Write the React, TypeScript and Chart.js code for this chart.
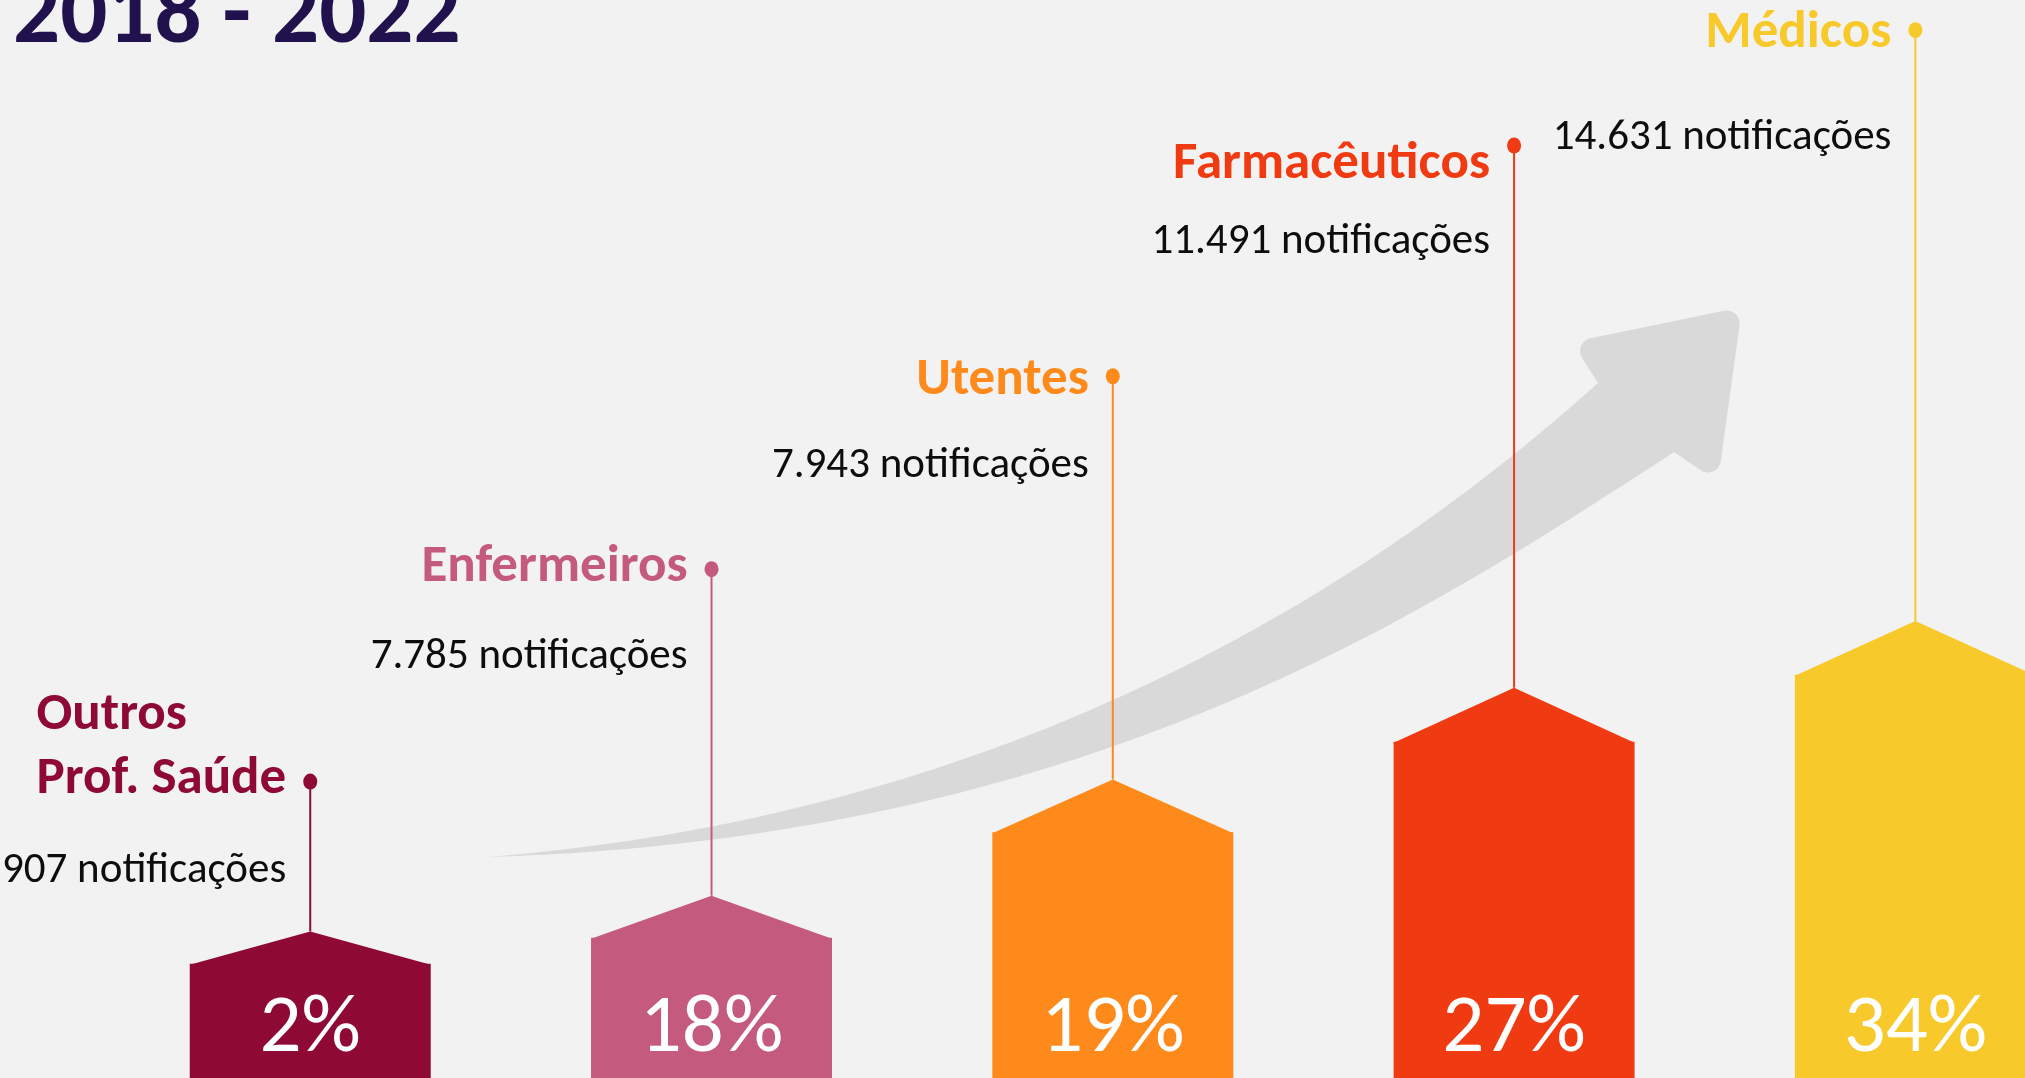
import React, { useEffect, useRef } from "react";
import { Chart, registerables } from "chart.js";

Chart.register(...registerables);

// ---- data ----
const categories = ["Outros Prof. Saúde", "Enfermeiros", "Utentes", "Farmacêuticos", "Médicos"];
const labelLines = [["Outros", "Prof. Saúde"], ["Enfermeiros"], ["Utentes"], ["Farmacêuticos"], ["Médicos"]];
const notifications = [907, 7785, 7943, 11491, 14631];
const shares = [2, 18, 19, 27, 34];
// decorative column levels (chart units 0-100)
const columnLevels = [10.6, 13.0, 22.8, 31.2, 37.4];
const peakLevels = [13.6, 16.9, 27.7, 36.2, 42.4];
const stemLevels = [27.5, 47.2, 65.1, 86.5, 97.2];
const titleText = "2018 - 2022";

// ---- styling / layout ----
const COLORS = ["#8e0a35", "#c45b7e", "#fe8a1c", "#f03a12", "#f8c92b"];
const BG = "#f2f2f2";
const ARROW = "#d9d9d9";
const TITLE_COLOR = "#21124d";
const FONT = "Carlito, Calibri, Lato, sans-serif";
const LABEL_DY = [11, 12, 18, 32, 17];
const COUNT_DY = [100, 99, 101, 107, 119];

// decorative swoosh arrow outline (page pixels): tail, edges as cubic curves, rounded head
const ARROW_TAIL: [number, number] = [488, 857];
const ARROW_UPPER_CP: [number, number][] = [[988, 817], [1348, 608]];
const ARROW_NOTCH_UP: [number, number] = [1598, 383];
const ARROW_HEAD: [number, number][] = [[1572, 342], [1742, 307], [1718, 482]];
const ARROW_NOTCH_LOW: [number, number] = [1674, 452];
const ARROW_LOWER_CP: [number, number][] = [[1424, 614.5], [1088, 839]];

const fmt = (n: number) => String(n).replace(/\B(?=(\d{3})+(?!\d))/g, ".");

export default function App() {
  const ref = useRef<HTMLCanvasElement>(null);

  useEffect(() => {
    const canvas = ref.current!;

    const bgPlugin = {
      id: "bgFill",
      beforeDraw(chart: any) {
        const ctx = chart.ctx;
        ctx.save();
        ctx.fillStyle = BG;
        ctx.fillRect(0, 0, chart.width, chart.height);
        ctx.restore();
      },
    };

    const arrowPlugin = {
      id: "arrow",
      beforeDatasetsDraw(chart: any) {
        const ctx: CanvasRenderingContext2D = chart.ctx;
        const [A, B, C] = ARROW_HEAD;
        const E = ARROW_NOTCH_UP;
        const D = ARROW_NOTCH_LOW;
        const T = ARROW_TAIL;
        ctx.save();
        ctx.fillStyle = ARROW;
        ctx.beginPath();
        ctx.moveTo(T[0], T[1]);
        ctx.bezierCurveTo(ARROW_UPPER_CP[0][0], ARROW_UPPER_CP[0][1], ARROW_UPPER_CP[1][0], ARROW_UPPER_CP[1][1], E[0], E[1]);
        ctx.arcTo(A[0], A[1], B[0], B[1], 13);
        ctx.arcTo(B[0], B[1], C[0], C[1], 13);
        ctx.arcTo(C[0], C[1], D[0], D[1], 13);
        ctx.lineTo(D[0], D[1]);
        ctx.bezierCurveTo(ARROW_LOWER_CP[0][0], ARROW_LOWER_CP[0][1], ARROW_LOWER_CP[1][0], ARROW_LOWER_CP[1][1], T[0], T[1]);
        ctx.closePath();
        ctx.fill();
        ctx.restore();
      },
    };

    const decoPlugin = {
      id: "deco",
      afterDatasetsDraw(chart: any) {
        const ctx = chart.ctx;
        const ys = chart.scales.y;
        const meta = chart.getDatasetMeta(0);
        ctx.save();
        meta.data.forEach((el: any, i: number) => {
          const { x, y, width } = el.getProps(["x", "y", "width"], true);
          const col = COLORS[i];
          const apexY = ys.getPixelForValue(peakLevels[i]);
          const dotY = ys.getPixelForValue(stemLevels[i]);
          // roof
          ctx.fillStyle = col;
          ctx.beginPath();
          ctx.moveTo(x - width / 2, y + 1);
          ctx.lineTo(x, apexY);
          ctx.lineTo(x + width / 2, y + 1);
          ctx.closePath();
          ctx.fill();
          // stem
          ctx.strokeStyle = col;
          ctx.lineWidth = 2;
          ctx.beginPath();
          ctx.moveTo(x, apexY);
          ctx.lineTo(x, dotY);
          ctx.stroke();
          ctx.beginPath();
          ctx.ellipse(x, dotY, 7, 8, 0, 0, Math.PI * 2);
          ctx.fill();
          // labels
          ctx.font = `bold 53px ${FONT}`;
          ctx.textBaseline = "alphabetic";
          ctx.textAlign = "left";
          const lines = labelLines[i];
          const maxW = Math.max(...lines.map((l) => ctx.measureText(l).width));
          const lx = x - 24 - maxW;
          lines.forEach((l, k) => {
            const by = dotY + LABEL_DY[i] - (lines.length - 1 - k) * 64;
            ctx.fillText(l, lx, by);
          });
          ctx.font = `43px ${FONT}`;
          ctx.fillStyle = "#0d0d0d";
          ctx.textAlign = "right";
          ctx.fillText(`${fmt(notifications[i])} notificações`, x - 24, dotY + COUNT_DY[i]);
          // share
          ctx.font = `83px ${FONT}`;
          ctx.fillStyle = "#ffffff";
          ctx.textAlign = "center";
          ctx.fillText(`${shares[i]}%`, x, 1051);
        });
        // title
        ctx.font = `bold 93px ${FONT}`;
        ctx.fillStyle = TITLE_COLOR;
        ctx.textAlign = "left";
        ctx.fillText(titleText, 13, 42);
        ctx.restore();
      },
    };

    const chart = new Chart(canvas, {
      type: "bar",
      data: {
        labels: categories,
        datasets: [
          {
            data: columnLevels,
            backgroundColor: COLORS,
            borderWidth: 0,
            barPercentage: 0.6005,
            categoryPercentage: 1,
          },
        ],
      },
      options: {
        animation: false,
        responsive: false,
        devicePixelRatio: 1,
        layout: { padding: { left: 109.6, right: 0, top: 0, bottom: 0 } },
        scales: {
          x: { display: false, offset: true },
          y: { display: false, min: 0, max: 100 },
        },
        plugins: { legend: { display: false }, tooltip: { enabled: false } },
      },
      plugins: [bgPlugin, arrowPlugin, decoPlugin],
    } as any);
    return () => chart.destroy();
  }, []);

  return (
    <div
      style={{
        position: "fixed",
        left: 0,
        top: 0,
        width: 2025,
        height: 1078,
        overflow: "hidden",
        background: BG,
      }}
    >
      <canvas ref={ref} width={2116} height={1078} style={{ display: "block", width: 2116, height: 1078 }} />
    </div>
  );
}
